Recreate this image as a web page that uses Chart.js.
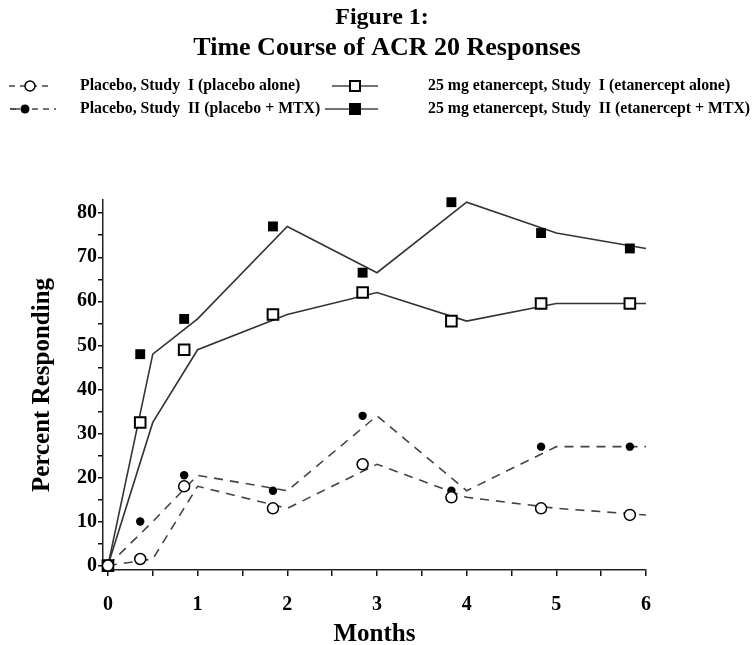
<!DOCTYPE html>
<html>
<head>
<meta charset="utf-8">
<title>Time Course of ACR 20 Responses</title>
<script src="https://cdn.jsdelivr.net/npm/chart.js@4/dist/chart.umd.min.js"></script>
<style>
  html, body { margin: 0; padding: 0; background: #ffffff; }
  #wrap { position: relative; width: 756px; height: 645px; }
</style>
</head>
<body>
<div id="wrap"><canvas id="acr"></canvas></div>
<script>
// Months where the drawn lines bend, and where the plotted symbols sit
const lineMonths = [0, 0.5, 1, 2, 3, 4, 5, 6];
const markerMonths = [0, 0.36, 0.85, 1.84, 2.84, 3.83, 4.83, 5.82];
const markerMonthsEtanII = [-0.14, 0.36, 0.85, 1.84, 2.84, 3.83, 4.83, 5.82];

// Percent responding (ACR 20)
const placeboStudyI = [0, 1.5, 18, 13, 23, 15.5, 13, 11.5];
const placeboStudyII = [0, 10, 20.5, 17, 34, 17, 27, 27];
const etanStudyI = [0, 32.5, 49, 57, 62, 55.5, 59.5, 59.5];
const etanStudyII = [0, 48, 56, 77, 66.5, 82.5, 75.5, 72];

const xTickValues = [0, 0.5, 1, 1.5, 2, 2.5, 3, 3.5, 4, 4.5, 5, 5.5, 6];
const yTickValues = [0, 5, 10, 15, 20, 25, 30, 35, 40, 45, 50, 55, 60, 65, 70, 75, 80];

const titleLines = ['Figure 1:', 'Time Course of ACR 20 Responses'];
const legendLabels = [
  'Placebo, Study  I (placebo alone)',
  'Placebo, Study  II (placebo + MTX)',
  '25 mg etanercept, Study  I (etanercept alone)',
  '25 mg etanercept, Study  II (etanercept + MTX)',
];

const SERIF = "'Liberation Serif', 'Times New Roman', serif";

function pairs(xs, ys) {
  return ys.map((y, i) => ({ x: xs[i], y: y }));
}

/**
 * Header: two-line title and the 2x2 legend with hand drawn symbols.
 */
const headerPlugin = {
  id: 'header',
  afterDraw(chart) {
    const ctx = chart.ctx;
    ctx.save();
    ctx.fillStyle = '#000';
    ctx.textAlign = 'center';
    ctx.textBaseline = 'middle';
    ctx.font = 'bold 24px ' + SERIF;
    ctx.fillText(titleLines[0], 382, 18);
    ctx.font = 'bold 26px ' + SERIF;
    ctx.fillText(titleLines[1], 387, 48);

    const rows = [86, 109];
    // symbols
    ctx.strokeStyle = '#444';
    ctx.lineWidth = 1.5;
    // placebo I: dashed with open circle
    ctx.setLineDash([6, 5]);
    ctx.beginPath(); ctx.moveTo(9, rows[0]); ctx.lineTo(52, rows[0]); ctx.stroke();
    // placebo II: dashed with filled circle
    ctx.beginPath(); ctx.moveTo(10, rows[1]); ctx.lineTo(56, rows[1]); ctx.stroke();
    ctx.setLineDash([]);
    ctx.beginPath(); ctx.moveTo(10, rows[1]); ctx.lineTo(20, rows[1]); ctx.stroke();
    // etanercept: solid lines
    ctx.beginPath(); ctx.moveTo(332, rows[0]); ctx.lineTo(378, rows[0]); ctx.stroke();
    ctx.beginPath(); ctx.moveTo(325, rows[1]); ctx.lineTo(378, rows[1]); ctx.stroke();

    ctx.strokeStyle = '#000';
    ctx.lineWidth = 1.5;
    ctx.fillStyle = '#fff';
    ctx.beginPath(); ctx.arc(30, rows[0], 5, 0, Math.PI * 2); ctx.fill(); ctx.stroke();
    ctx.fillStyle = '#000';
    ctx.beginPath(); ctx.arc(25, rows[1], 4.5, 0, Math.PI * 2); ctx.fill();
    ctx.fillStyle = '#fff';
    ctx.lineWidth = 2;
    ctx.fillRect(350, rows[0] - 5, 10, 10); ctx.strokeRect(350, rows[0] - 5, 10, 10);
    ctx.fillStyle = '#000';
    ctx.fillRect(349, rows[1] - 6, 12, 12);

    // labels
    ctx.textAlign = 'left';
    ctx.font = 'bold 15.8px ' + SERIF;
    ctx.fillText(legendLabels[0], 80, rows[0]);
    ctx.fillText(legendLabels[1], 80, rows[1]);
    ctx.fillText(legendLabels[2], 428, rows[0]);
    ctx.fillText(legendLabels[3], 428, rows[1]);
    ctx.restore();
  },
};

const lineStyle = {
  pointRadius: 0,
  borderWidth: 1.6,
  tension: 0,
  fill: false,
  clip: false,
};

const markerStyle = {
  showLine: false,
  clip: false,
  borderColor: '#000',
  borderWidth: 2,
  pointHoverRadius: 6,
};

new Chart(document.getElementById('acr'), {
  type: 'scatter',
  data: {
    datasets: [
      // symbols first so they are drawn on top of the lines
      Object.assign({}, markerStyle, {
        label: legendLabels[0], data: pairs(markerMonths, placeboStudyI),
        pointStyle: 'circle', pointRadius: 5.5, pointBorderWidth: 1.5,
        pointBackgroundColor: '#fff',
      }),
      Object.assign({}, markerStyle, {
        label: legendLabels[1], data: pairs(markerMonths, placeboStudyII),
        pointStyle: 'circle', pointRadius: 4.2, pointBorderWidth: 0,
        pointBackgroundColor: '#000',
      }),
      Object.assign({}, markerStyle, {
        label: legendLabels[2], data: pairs(markerMonths, etanStudyI),
        pointStyle: 'rect', pointRadius: 7.5, pointBorderWidth: 2,
        pointBackgroundColor: '#fff',
      }),
      Object.assign({}, markerStyle, {
        label: legendLabels[3], data: pairs(markerMonthsEtanII, etanStudyII),
        pointStyle: 'rect', pointRadius: 7, pointBorderWidth: 0,
        pointBackgroundColor: '#000',
      }),
      Object.assign({}, lineStyle, {
        label: 'placebo I line', data: pairs(lineMonths, placeboStudyI),
        showLine: true, borderColor: '#444', borderDash: [9, 7],
      }),
      Object.assign({}, lineStyle, {
        label: 'placebo II line', data: pairs(lineMonths, placeboStudyII),
        showLine: true, borderColor: '#444', borderDash: [9, 7],
      }),
      Object.assign({}, lineStyle, {
        label: 'etanercept I line', data: pairs(lineMonths, etanStudyI),
        showLine: true, borderColor: '#333',
      }),
      Object.assign({}, lineStyle, {
        label: 'etanercept II line', data: pairs(lineMonths, etanStudyII),
        showLine: true, borderColor: '#333',
      }),
    ],
  },
  options: {
    responsive: true,
    maintainAspectRatio: false,
    animation: false,
    layout: { padding: { top: 200, right: 110, bottom: 0, left: 0 } },
    plugins: {
      legend: { display: false },
      title: { display: false },
      tooltip: { enabled: true },
    },
    scales: {
      x: {
        type: 'linear',
        min: -0.055,
        max: 6,
        afterBuildTicks(scale) { scale.ticks = xTickValues.map((v) => ({ value: v })); },
        afterFit(scale) { scale.height = 75; },
        grid: {
          drawOnChartArea: false, drawTicks: true, tickLength: 6,
          color: '#111', lineWidth: 1.5,
        },
        border: { display: true, color: '#222', width: 1.5 },
        ticks: {
          autoSkip: false,
          maxRotation: 0,
          padding: 17,
          color: '#000',
          font: { family: SERIF, size: 20, weight: 'bold' },
          callback: (v) => (Number.isInteger(v) ? String(v) : ''),
        },
        title: {
          display: true,
          text: 'Months',
          color: '#000',
          padding: { top: 0, bottom: 0 },
          font: { family: SERIF, size: 25, weight: 'bold', lineHeight: 0.8 },
        },
      },
      y: {
        type: 'linear',
        min: -1,
        max: 83,
        afterBuildTicks(scale) { scale.ticks = yTickValues.map((v) => ({ value: v })); },
        afterFit(scale) { scale.width = 103; },
        grid: {
          drawOnChartArea: false, drawTicks: true, tickLength: 5,
          color: '#111', lineWidth: 1.5,
        },
        border: { display: true, color: '#222', width: 1.5 },
        ticks: {
          autoSkip: false,
          padding: 1,
          color: '#000',
          font: { family: SERIF, size: 20, weight: 'bold' },
          callback: (v) => (v % 10 === 0 ? String(v) : ''),
        },
        title: {
          display: true,
          text: 'Percent Responding',
          color: '#000',
          padding: { top: 30, bottom: 0 },
          font: { family: SERIF, size: 25, weight: 'bold', lineHeight: 1 },
        },
      },
    },
  },
  plugins: [headerPlugin],
});
</script>
</body>
</html>
